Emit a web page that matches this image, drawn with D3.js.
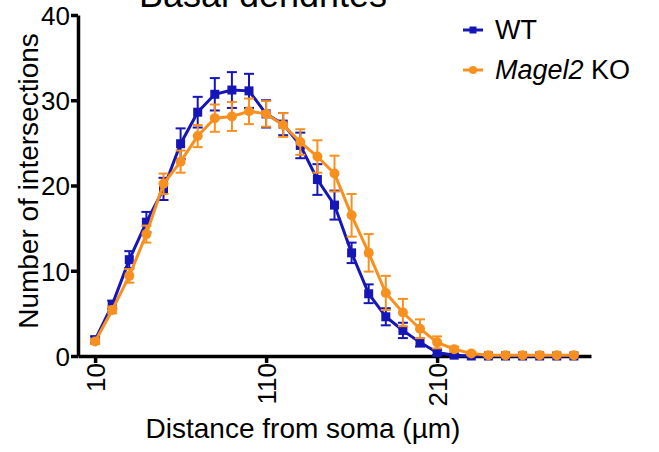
<!DOCTYPE html>
<html>
<head>
<meta charset="utf-8">
<script src="https://cdn.jsdelivr.net/npm/d3@7"></script>
<style>
  body { margin: 0; background: #fff; }
  text { font-family: Arial, "Liberation Sans", sans-serif; fill: #000; }
</style>
</head>
<body>
<div class="canvas"></div>
<script>
// distance from soma (um)
const distances = [10, 20, 30, 40, 50, 60, 70, 80, 90, 100, 110, 120, 130, 140, 150,
    160, 170, 180, 190, 200, 210, 220, 230, 240, 250, 260, 270, 280, 290]

const wtMean = [1.9, 6.0, 11.3, 15.7, 19.6, 24.9, 28.6, 30.7, 31.2, 31.1, 28.4, 27.2, 24.7, 20.7, 17.7,
    12.1, 7.3, 4.6, 3.0, 1.6, 0.4, 0.1, 0, 0, 0, 0, 0, 0, 0]
const wtSem = [0.4, 0.5, 1.0, 1.2, 1.3, 1.8, 1.8, 1.9, 2.1, 2.0, 1.6, 1.3, 1.5, 1.8, 1.7,
    1.2, 1.1, 1.0, 0.9, 0.5, 0.3, 0.1, 0, 0, 0, 0, 0, 0, 0]

const koMean = [1.7, 5.4, 9.4, 14.3, 20.2, 22.8, 25.8, 27.9, 28.1, 28.7, 28.4, 27.1, 25.1, 23.4, 21.4,
    16.5, 12.1, 7.4, 5.1, 3.2, 1.6, 0.8, 0.3, 0.1, 0.1, 0.1, 0.1, 0.1, 0.1]
const koSem = [0.3, 0.4, 0.8, 1.0, 1.2, 1.3, 1.3, 1.6, 1.7, 1.5, 1.5, 1.4, 1.5, 1.9, 2.1,
    2.5, 2.2, 2.0, 1.6, 1.1, 0.7, 0.3, 0.2, 0.1, 0, 0, 0, 0, 0]

const xTicks = [10, 110, 210]
const yTicks = [0, 10, 20, 30, 40]

const blue = '#1616b8'
const orange = '#f8901f'

const margin = { top: 15, right: 68, bottom: 96, left: 78 }
const width = 659, height = 452
const graphWidth = width - margin.left - margin.right
const graphHeight = height - margin.top - margin.bottom

const svg = d3.select('.canvas')
    .append('svg')
    .attr('width', width)
    .attr('height', height)

const graph = svg.append('g')
    .attr('transform', `translate(${margin.left}, ${margin.top})`)

const xScale = d3.scaleLinear().domain([0, 300]).range([0, graphWidth])
const yScale = d3.scaleLinear().domain([0, 40]).range([graphHeight, 0])

// axes
const xAxis = d3.axisBottom(xScale).tickValues(xTicks).tickSize(7).tickSizeOuter(0)
const yAxis = d3.axisLeft(yScale).tickValues(yTicks).tickSize(7).tickSizeOuter(0)

const xAxisGroup = graph.append('g')
    .attr('transform', `translate(0, ${graphHeight})`)
    .call(xAxis)
xAxisGroup.selectAll('text')
    .attr('transform', 'rotate(-90)')
    .attr('text-anchor', 'end')
    .attr('dx', '-7')
    .attr('dy', '0.35em')
    .attr('x', 0).attr('y', 0)
    .style('font-size', '26px')

const yAxisGroup = graph.append('g').call(yAxis)
yAxisGroup.selectAll('text')
    .attr('x', -8)
    .attr('dy', '0.36em')
    .style('font-size', '26px')

graph.selectAll('.domain, .tick line')
    .attr('stroke', '#000')
    .attr('stroke-width', 3.5)

const series = [
    { name: 'WT', mean: wtMean, sem: wtSem, color: blue, shape: 'square' },
    { name: 'KO', mean: koMean, sem: koSem, color: orange, shape: 'circle' }
]

const line = d3.line()
    .x((d, i) => xScale(distances[i]))
    .y(d => yScale(d))

series.forEach(s => {
    const g = graph.append('g')

    // error bars
    const bars = g.selectAll('.err')
        .data(s.mean.map((m, i) => ({ x: distances[i], m, e: s.sem[i] })).filter(d => d.e > 0))
        .enter().append('g')
    bars.append('line')
        .attr('x1', d => xScale(d.x)).attr('x2', d => xScale(d.x))
        .attr('y1', d => yScale(d.m - d.e)).attr('y2', d => yScale(d.m + d.e))
    bars.append('line')
        .attr('x1', d => xScale(d.x) - 5).attr('x2', d => xScale(d.x) + 5)
        .attr('y1', d => yScale(d.m + d.e)).attr('y2', d => yScale(d.m + d.e))
    bars.append('line')
        .attr('x1', d => xScale(d.x) - 5).attr('x2', d => xScale(d.x) + 5)
        .attr('y1', d => yScale(d.m - d.e)).attr('y2', d => yScale(d.m - d.e))
    bars.selectAll('line')
        .attr('stroke', s.color)
        .attr('stroke-width', 2)

    g.append('path')
        .datum(s.mean)
        .attr('fill', 'none')
        .attr('stroke', s.color)
        .attr('stroke-width', 3)
        .attr('d', line)

    if (s.shape === 'square') {
        g.selectAll('rect')
            .data(s.mean)
            .enter().append('rect')
            .attr('x', (d, i) => xScale(distances[i]) - 4.5)
            .attr('y', d => yScale(d) - 4.5)
            .attr('width', 9).attr('height', 9)
            .attr('fill', s.color)
    } else {
        g.selectAll('circle')
            .data(s.mean)
            .enter().append('circle')
            .attr('cx', (d, i) => xScale(distances[i]))
            .attr('cy', d => yScale(d))
            .attr('r', 5)
            .attr('fill', s.color)
    }
})

// axis titles
svg.append('text')
    .attr('transform', `translate(38, ${margin.top + 166}) rotate(-90)`)
    .attr('text-anchor', 'middle')
    .style('font-size', '28px')
    .text('Number of intersections')

svg.append('text')
    .attr('x', 303)
    .attr('y', 438)
    .attr('text-anchor', 'middle')
    .style('font-size', '28px')
    .text('Distance from soma (µm)')

// title (cut off at top, as in the original figure)
svg.append('text')
    .attr('x', 263)
    .attr('y', 7)
    .attr('text-anchor', 'middle')
    .style('font-size', '36px')
    .text('Basal dendrites')

// legend
const legend = svg.append('g').attr('transform', 'translate(463, 0)')
legend.append('line')
    .attr('x1', 0).attr('x2', 20).attr('y1', 30).attr('y2', 30)
    .attr('stroke', blue).attr('stroke-width', 3)
legend.append('rect')
    .attr('x', 6.5).attr('y', 26.5).attr('width', 7).attr('height', 7)
    .attr('fill', blue)
legend.append('text')
    .attr('x', 32).attr('y', 39)
    .style('font-size', '27px')
    .text('WT')

legend.append('line')
    .attr('x1', 0).attr('x2', 20).attr('y1', 70).attr('y2', 70)
    .attr('stroke', orange).attr('stroke-width', 3)
legend.append('circle')
    .attr('cx', 10).attr('cy', 70).attr('r', 4)
    .attr('fill', orange)
const koText = legend.append('text')
    .attr('x', 32).attr('y', 79)
    .style('font-size', '27px')
koText.append('tspan').style('font-style', 'italic').text('Magel2')
koText.append('tspan').text(' KO')
</script>
</body>
</html>
